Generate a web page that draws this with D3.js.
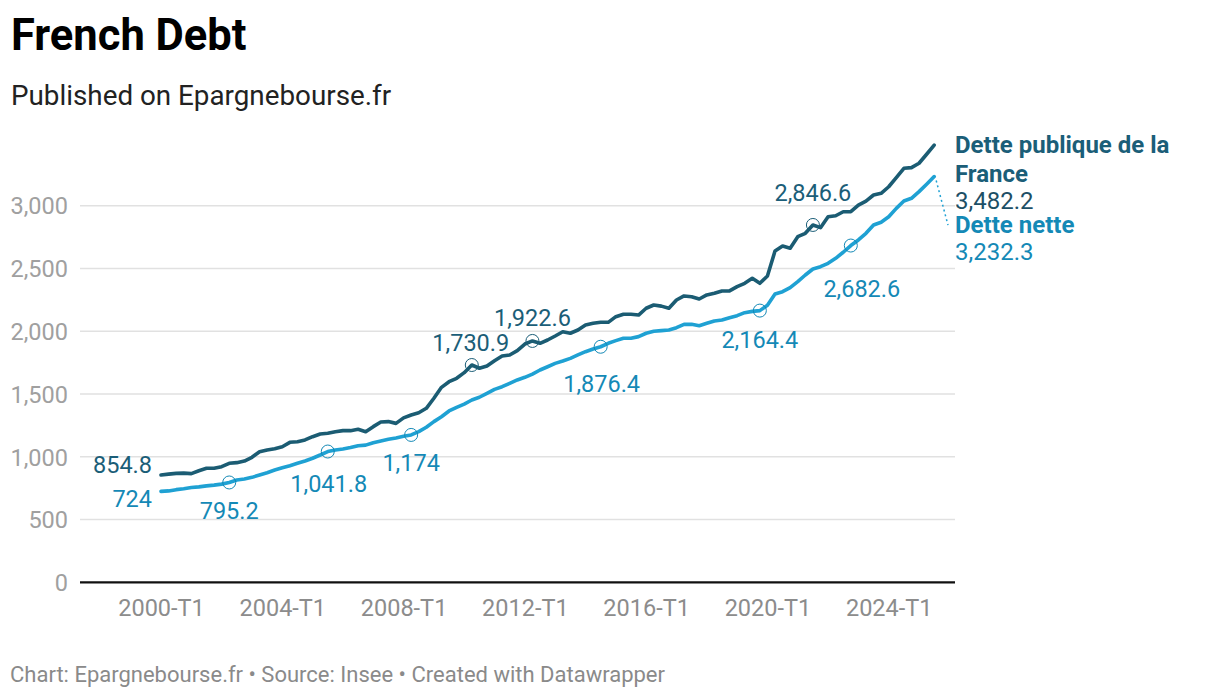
<!DOCTYPE html>
<html>
<head>
<meta charset="utf-8">
<script src="https://cdn.jsdelivr.net/npm/d3@7"></script>
<style>
  body { margin: 0; background: #fff; font-family: Roboto, "Noto Sans", sans-serif; }
  svg text { font-family: Roboto, "Noto Sans", sans-serif; }
</style>
</head>
<body>
<div id="chart"></div>
<script>
// ---- data ----
const START_YEAR = 2000;
const N_QUARTERS = 103;           // 2000-T1 .. 2025-T3
const quarters = [];
for (let i = 0; i < N_QUARTERS; i++) {
  quarters.push(`${START_YEAR + Math.floor(i / 4)}-T${(i % 4) + 1}`);
}

const seriesNames = ["Dette publique de la France", "Dette nette"];

// Dette publique de la France (Md€)
const dettePublique = [
  854.8, 862, 868, 870, 866, 889, 908, 908, 921, 948,
  953, 966, 996, 1040, 1054, 1064, 1080, 1115, 1120, 1134,
  1160, 1181, 1187, 1200, 1208, 1208, 1219, 1200, 1240, 1277,
  1280, 1266, 1310, 1333, 1351, 1386, 1466, 1553, 1598, 1625,
  1670, 1730.9, 1705, 1723, 1765, 1803, 1811, 1845, 1898, 1922.6,
  1904, 1930, 1962, 1996, 1984, 2010, 2050, 2063, 2071, 2071,
  2116, 2135, 2135, 2129, 2183, 2209, 2200, 2183, 2249, 2281,
  2275, 2257, 2289, 2302, 2321, 2321, 2355, 2382, 2422, 2382,
  2440, 2639, 2679, 2661, 2753, 2780, 2846.6, 2825, 2912, 2920,
  2952, 2952, 3005, 3037, 3085, 3099, 3151, 3223, 3298, 3303,
  3338, 3410, 3482.2
];

// Dette nette (Md€)
const detteNette = [
  724, 728, 738, 745, 755, 760, 768, 774, 782, 795.2,
  815, 823, 836, 855, 873, 894, 913, 929, 948, 966,
  988, 1014, 1041.8, 1054, 1062, 1073, 1088, 1093, 1112, 1126,
  1139, 1150, 1163, 1174, 1200, 1235, 1280, 1319, 1365, 1394,
  1420, 1452, 1474, 1505, 1537, 1558, 1585, 1612, 1633, 1659,
  1691, 1717, 1744, 1763, 1784, 1811, 1837, 1859, 1876.4, 1904,
  1925, 1944, 1944, 1957, 1984, 2000, 2005, 2010, 2028, 2055,
  2055, 2044, 2063, 2082, 2089, 2108, 2124, 2148, 2158, 2164.4,
  2207, 2297, 2315, 2347, 2395, 2448, 2496, 2514, 2541, 2581,
  2629, 2682.6, 2727, 2780, 2846, 2868, 2912, 2979, 3037, 3059,
  3112, 3171, 3232.3
];

const yTicks = [0, 500, 1000, 1500, 2000, 2500, 3000];
const xTicks = ["2000-T1", "2004-T1", "2008-T1", "2012-T1", "2016-T1", "2020-T1", "2024-T1"];

// highlighted points: [series index, quarter]
const highlights = [
  [1, "2002-T2"], [1, "2005-T3"], [1, "2008-T2"], [0, "2010-T2"], [0, "2012-T2"],
  [1, "2014-T3"], [1, "2019-T4"], [0, "2021-T3"], [1, "2022-T4"]
];

(function () {
  const W = 1220, H = 700;
  const COLOUR_DARK_LINE = "#1b5c73";
  const COLOUR_DARK_TEXT = "#1b5e78";
  const COLOUR_LIGHT_LINE = "#1fa1d3";
  const COLOUR_LIGHT_TEXT = "#1489b6";
  const FS = 23.5;

  const fmt = d3.format(",");
  const values = [dettePublique, detteNette];
  const lineCol = [COLOUR_DARK_LINE, COLOUR_LIGHT_LINE];
  const textCol = [COLOUR_DARK_TEXT, COLOUR_LIGHT_TEXT];

  const svg = d3.select("#chart").append("svg")
    .attr("width", W).attr("height", H);

  // header / footer
  svg.append("text").attr("x", 11).attr("y", 50)
    .attr("font-size", 43.5).attr("font-weight", 700).attr("fill", "#000")
    .text("French Debt");
  svg.append("text").attr("x", 11).attr("y", 105)
    .attr("font-size", 27.8).attr("fill", "#222")
    .text("Published on Epargnebourse.fr");
  svg.append("text").attr("x", 10).attr("y", 682)
    .attr("font-size", 22).attr("fill", "#8a8a8a")
    .text("Chart: Epargnebourse.fr \u2022 Source: Insee \u2022 Created with Datawrapper");

  // scales
  const PLOT_L = 80, PLOT_R = 955;
  const x = d3.scalePoint().domain(quarters).range([161, 934.2]);
  const y = d3.scaleLinear().domain([0, 3000]).range([582.3, 205.7]);

  // gridlines + y labels
  const grid = svg.append("g");
  grid.selectAll("line").data(yTicks.filter(d => d > 0)).join("line")
    .attr("x1", PLOT_L).attr("x2", PLOT_R)
    .attr("y1", d => y(d)).attr("y2", d => y(d))
    .attr("stroke", "#e1e1e1").attr("stroke-width", 1.5);

  const yAxis = svg.append("g")
    .attr("transform", `translate(${PLOT_L - 12},0)`)
    .call(d3.axisLeft(y).tickValues(yTicks).tickFormat(fmt).tickSize(0).tickPadding(0));
  yAxis.select(".domain").remove();
  yAxis.selectAll("text")
    .attr("font-size", FS).attr("fill", "#a0a0a0").attr("dy", "0.35em");

  // x axis
  const xAxis = svg.append("g")
    .attr("transform", `translate(0,${y(0)})`)
    .call(d3.axisBottom(x).tickValues(xTicks).tickSize(0).tickPadding(0));
  xAxis.select(".domain").remove();
  xAxis.selectAll("text")
    .attr("font-size", FS).attr("fill", "#8c8c8c").attr("y", 34).attr("dy", 0);
  svg.append("line")
    .attr("x1", PLOT_L).attr("x2", PLOT_R).attr("y1", y(0)).attr("y2", y(0))
    .attr("stroke", "#111").attr("stroke-width", 2.2);

  // lines
  const line = d3.line()
    .x((d, i) => x(quarters[i]))
    .y(d => y(d));
  [1, 0].forEach(s => {
    svg.append("path").datum(values[s])
      .attr("d", line)
      .attr("fill", "none")
      .attr("stroke", lineCol[s])
      .attr("stroke-width", 3.6)
      .attr("stroke-linejoin", "round")
      .attr("stroke-linecap", "round");
  });

  // highlighted points
  const hl = highlights.map(([s, q]) => {
    const i = quarters.indexOf(q);
    return { s, q, v: values[s][i] };
  });
  svg.append("g").selectAll("circle").data(hl).join("circle")
    .attr("cx", d => x(d.q)).attr("cy", d => y(d.v))
    .attr("r", 6.5)
    .attr("fill", "none")
    .attr("stroke", d => textCol[d.s])
    .attr("stroke-width", 1);

  // label offsets (dx, dy from the point to label centre), same order as highlights
  const hlOffsets = [
    [0, 28], [1, 32], [0, 28], [-1, -22], [0, -23],
    [1, 37], [0, 29], [0, -32], [11, 43]
  ];
  svg.append("g").selectAll("text").data(hl).join("text")
    .attr("x", (d, i) => x(d.q) + hlOffsets[i][0])
    .attr("y", (d, i) => y(d.v) + hlOffsets[i][1])
    .attr("dy", "0.35em")
    .attr("text-anchor", "middle")
    .attr("font-size", FS)
    .attr("fill", d => textCol[d.s])
    .text(d => fmt(d.v));

  // start labels
  const q0 = quarters[0];
  [[0, -10], [1, 7.5]].forEach(([s, dy]) => {
    svg.append("text")
      .attr("x", x(q0) - 9).attr("y", y(values[s][0]) + dy)
      .attr("dy", "0.35em").attr("text-anchor", "end")
      .attr("font-size", FS).attr("fill", textCol[s])
      .text(fmt(values[s][0]));
  });

  // end labels
  const qN = quarters[N_QUARTERS - 1];
  const lastDark = dettePublique[N_QUARTERS - 1];
  const lastLight = detteNette[N_QUARTERS - 1];
  const LX = PLOT_R;
  const endY0 = y(lastDark) + 8;
  const endG = svg.append("g").attr("font-size", 24);
  endG.append("text").attr("x", LX).attr("y", endY0)
    .attr("font-weight", 700).attr("fill", COLOUR_DARK_TEXT)
    .selectAll("tspan").data(["Dette publique de la", "France"]).join("tspan")
    .attr("x", LX).attr("dy", (d, i) => i ? 29 : 0).text(d => d);
  endG.append("text").attr("x", LX).attr("y", endY0 + 56)
    .attr("fill", "#1d4f66").text(fmt(lastDark));
  endG.append("text").attr("x", LX).attr("y", endY0 + 80)
    .attr("font-weight", 700).attr("fill", COLOUR_LIGHT_TEXT).text(seriesNames[1]);
  endG.append("text").attr("x", LX).attr("y", endY0 + 107)
    .attr("fill", COLOUR_LIGHT_TEXT).text(fmt(lastLight));

  // dotted connector from light line end to its label
  svg.append("line")
    .attr("x1", x(qN) + 2).attr("y1", y(lastLight) + 4)
    .attr("x2", LX - 7).attr("y2", endY0 + 72)
    .attr("stroke", COLOUR_LIGHT_LINE).attr("stroke-width", 1.5)
    .attr("stroke-dasharray", "2,3");
})();
</script>
</body>
</html>
